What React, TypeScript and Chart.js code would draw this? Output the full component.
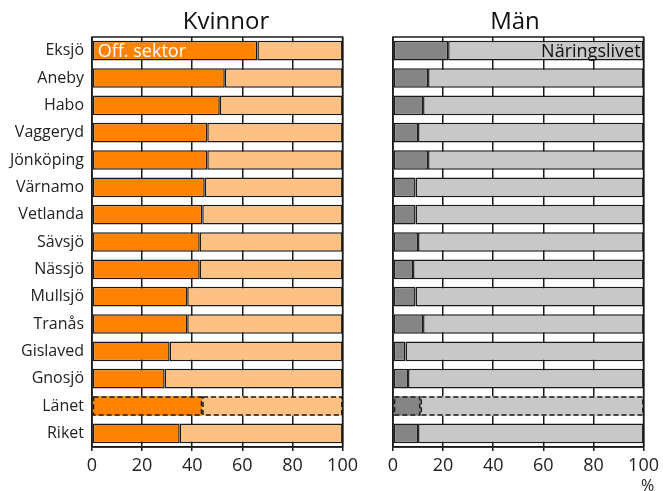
import React, { useEffect, useRef } from "react";
import { Chart, registerables } from "chart.js";

Chart.register(...registerables);

const categories = [
  "Eksjö", "Aneby", "Habo", "Vaggeryd", "Jönköping", "Värnamo", "Vetlanda",
  "Sävsjö", "Nässjö", "Mullsjö", "Tranås", "Gislaved", "Gnosjö", "Länet", "Riket",
];
const kvinnorOff = [66, 53, 51, 46, 46, 45, 44, 43, 43, 38, 38, 31, 29, 44, 35];
const kvinnorNar = [34, 47, 49, 54, 54, 55, 56, 57, 57, 62, 62, 69, 71, 56, 65];
const manOff = [22, 14, 12, 10, 14, 9, 9, 10, 8, 9, 12, 5, 6, 11, 10];
const manNar = [78, 86, 88, 90, 86, 91, 91, 90, 92, 91, 88, 95, 94, 89, 90];
const xTicks = [0, 20, 40, 60, 80, 100];
const dashedCategory = "Länet";

const FONT = "'Open Sans', 'Noto Sans', sans-serif";
const BORDER = "#1a1a1a";

function makeConfig(opts: {
  off: number[];
  nar: number[];
  offColor: string;
  narColor: string;
  showLabels: boolean;
  yWidth: number;
  padRight: number;
  innerLabel: { text: string; dataset: number; color: string; align: "left" | "right" };
}) {
  const dashIdx = categories.indexOf(dashedCategory);
  const bw = (ctx: any) => (ctx.dataIndex === dashIdx ? 0 : 1.5);
  const plugin = {
    id: "extras",
    afterDatasetsDraw(chart: any) {
      const ctx = chart.ctx;
      ctx.save();
      ctx.strokeStyle = BORDER;
      ctx.lineWidth = 1.5;
      ctx.setLineDash([5, 3]);
      for (let d = 0; d < chart.data.datasets.length; d++) {
        const el = chart.getDatasetMeta(d).data[dashIdx];
        const p = el.getProps(["x", "y", "base", "height"], true);
        const l = Math.min(p.x, p.base);
        const r = Math.max(p.x, p.base);
        ctx.strokeRect(l + 0.75, p.y - p.height / 2 + 0.75, r - l - 1.5, p.height - 1.5);
      }
      ctx.setLineDash([]);
      const il = opts.innerLabel;
      const el0 = chart.getDatasetMeta(il.dataset).data[0];
      const q = el0.getProps(["x", "y", "base", "height"], true);
      ctx.font = `18px ${FONT}`;
      ctx.fillStyle = il.color;
      ctx.textBaseline = "middle";
      if (il.align === "left") {
        ctx.textAlign = "left";
        ctx.fillText(il.text, Math.min(q.x, q.base) + 5, q.y + 1);
      } else {
        ctx.textAlign = "right";
        ctx.fillText(il.text, Math.max(q.x, q.base) - 3, q.y + 1);
      }
      const a = chart.chartArea;
      ctx.lineWidth = 1.5;
      ctx.strokeStyle = BORDER;
      ctx.strokeRect(a.left, a.top, a.right - a.left, a.bottom - a.top);
      ctx.restore();
    },
  };
  return {
    type: "bar" as const,
    data: {
      labels: categories,
      datasets: [
        {
          data: opts.off,
          backgroundColor: opts.offColor,
          borderColor: BORDER,
          borderWidth: bw,
          borderSkipped: false,
          barPercentage: 0.72,
          categoryPercentage: 1,
        },
        {
          data: opts.nar,
          backgroundColor: opts.narColor,
          borderColor: BORDER,
          borderWidth: bw,
          borderSkipped: false,
          barPercentage: 0.72,
          categoryPercentage: 1,
        },
      ],
    },
    options: {
      indexAxis: "y" as const,
      responsive: false,
      animation: false as const,
      devicePixelRatio: 1,
      layout: { padding: { top: 37, right: opts.padRight, bottom: 0, left: 0 } },
      plugins: { legend: { display: false }, tooltip: { enabled: false } },
      scales: {
        x: {
          stacked: true,
          min: 0,
          max: 100,
          afterBuildTicks: (s: any) => {
            s.ticks = xTicks.map((v) => ({ value: v }));
          },
          afterFit: (s: any) => {
            s.height = 44;
          },
          grid: { display: true, drawOnChartArea: true, color: BORDER, lineWidth: 1.5, tickLength: 4, drawTicks: true },
          border: { display: true, color: BORDER, width: 1.5 },
          ticks: { color: "#222", font: { family: FONT, size: 18 }, padding: 4, maxRotation: 0 },
        },
        y: {
          stacked: true,
          afterFit: (s: any) => {
            s.width = opts.yWidth;
          },
          grid: { display: false, drawTicks: false },
          border: { display: false },
          ticks: {
            display: opts.showLabels,
            color: "#222",
            font: { family: FONT, size: 16 },
            padding: 8,
          },
        },
      },
    },
    plugins: [plugin],
  };
}

function ChartCanvas(props: { config: any; width: number; height: number; left: number }) {
  const ref = useRef<HTMLCanvasElement | null>(null);
  useEffect(() => {
    if (!ref.current) return;
    const chart = new Chart(ref.current, props.config);
    return () => chart.destroy();
  }, []);
  return (
    <canvas
      ref={ref}
      width={props.width}
      height={props.height}
      style={{ position: "absolute", left: props.left, top: 0, width: props.width, height: props.height }}
    />
  );
}

export default function App() {
  const leftCfg = makeConfig({
    off: kvinnorOff,
    nar: kvinnorNar,
    offColor: "#ff8200",
    narColor: "#fdc283",
    showLabels: true,
    yWidth: 92,
    padRight: 18.5,
    innerLabel: { text: "Off. sektor", dataset: 0, color: "#ffffff", align: "left" },
  });
  const rightCfg = makeConfig({
    off: manOff,
    nar: manNar,
    offColor: "#858585",
    narColor: "#c8c8c8",
    showLabels: false,
    yWidth: 31,
    padRight: 19,
    innerLabel: { text: "Näringslivet", dataset: 1, color: "#111111", align: "right" },
  });
  const titleStyle: React.CSSProperties = {
    position: "absolute",
    top: 5,
    fontFamily: FONT,
    fontSize: 24,
    lineHeight: "30px",
    color: "#111",
    textAlign: "center",
    width: 200,
  };
  return (
    <div style={{ position: "absolute", left: 0, top: 0, width: 663, height: 491, background: "#fff", overflow: "hidden" }}>
      <ChartCanvas config={leftCfg} width={362} height={491} left={0} />
      <ChartCanvas config={rightCfg} width={301} height={491} left={362} />
      <div style={{ ...titleStyle, left: 226 - 100 }}>Kvinnor</div>
      <div style={{ ...titleStyle, left: 515 - 100 }}>Män</div>
      <div
        style={{
          position: "absolute",
          left: 641,
          top: 476,
          fontFamily: FONT,
          fontSize: 16,
          lineHeight: "18px",
          color: "#222",
        }}
      >
        %
      </div>
    </div>
  );
}
